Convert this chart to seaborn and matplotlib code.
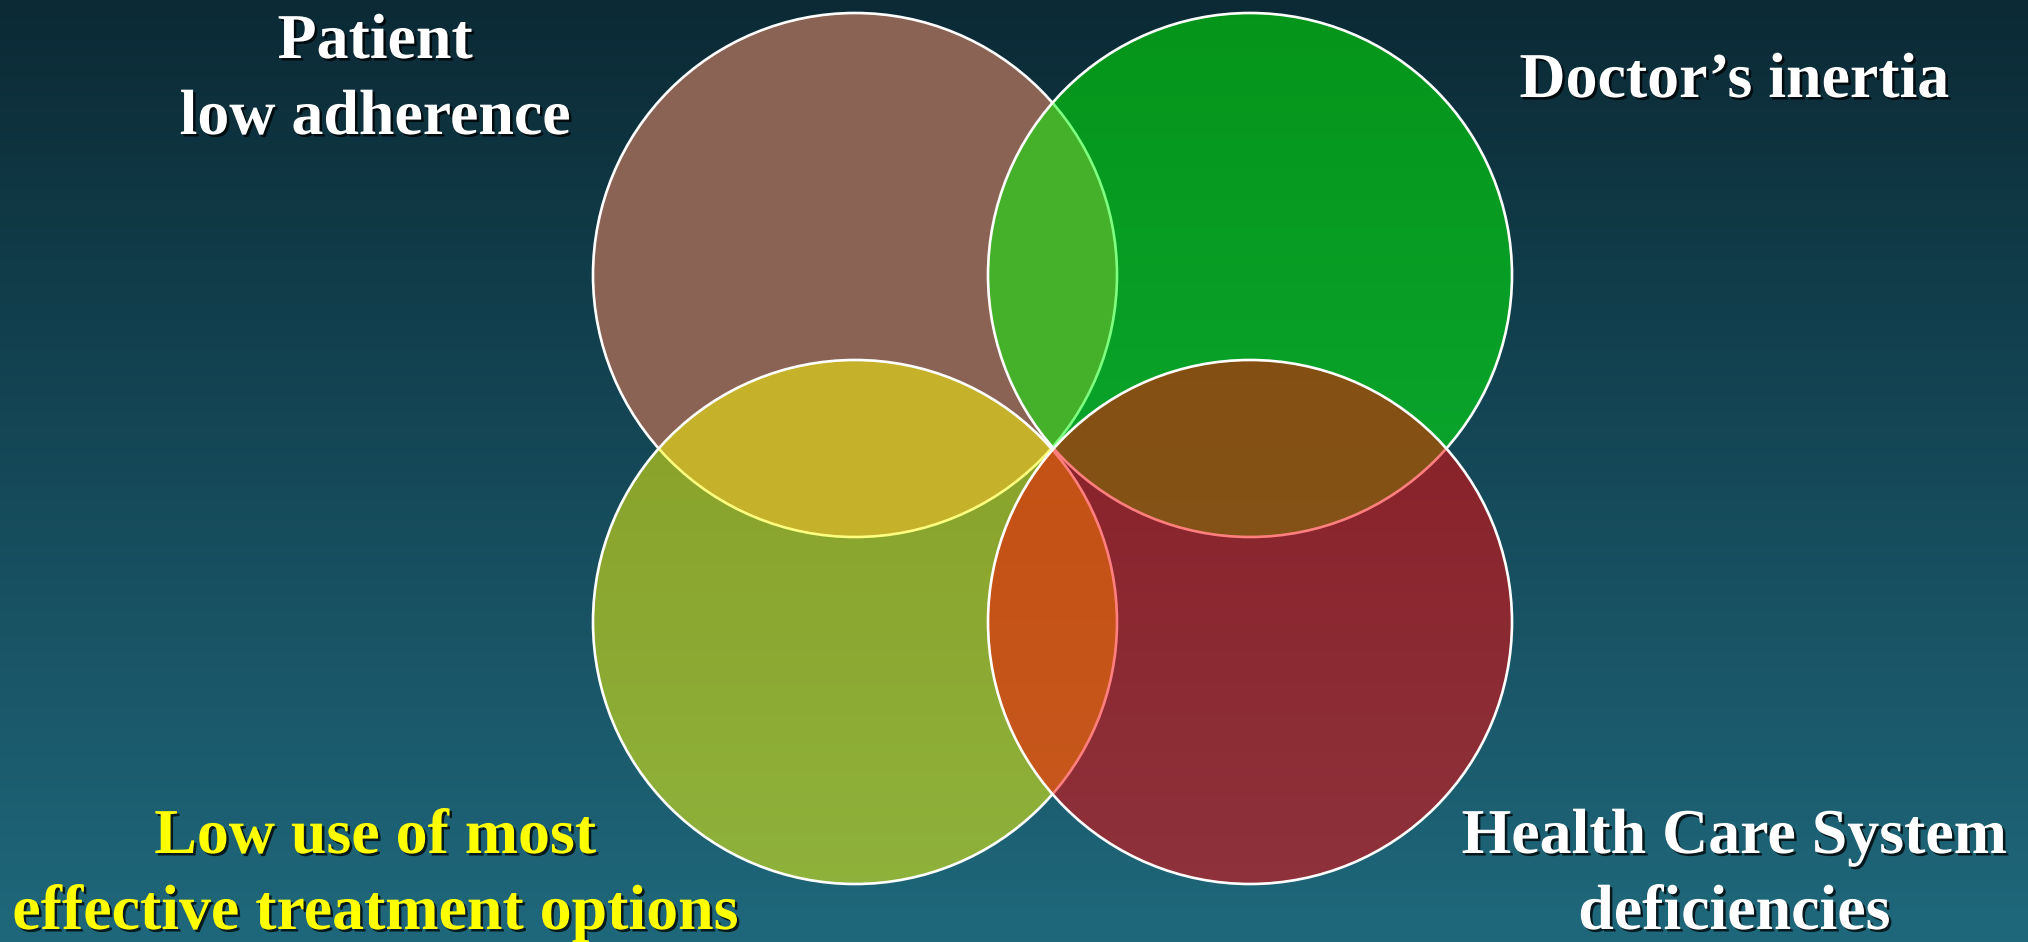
import numpy as np
import matplotlib
matplotlib.use("Agg")
import matplotlib.pyplot as plt
import matplotlib.patheffects as pe
from matplotlib.patches import Circle
import seaborn as sns

# ---- data ----
factors = ["Patient low adherence", "Doctor's inertia",
           "Low use of most effective treatment options", "Health Care System deficiencies"]
label_lines = [["Patient", "low adherence"],
               ["Doctor\u2019s inertia"],
               ["Low use of most", "effective treatment options"],
               ["Health Care System", "deficiencies"]]
fill_colors = ["#8B6355", "#00FF00", "#FFFF00", "#FF0000"]
fill_alpha = [1.0, 0.5, 0.5, 0.5]
text_colors = ["white", "white", "#FFFF00", "white"]

sns.set_theme(style="white")
plt.rcParams['font.family'] = ['Liberation Serif', 'DejaVu Serif']

W, H = 2028, 942
fig = plt.figure(figsize=(W / 100, H / 100), dpi=100)
ax = fig.add_axes([0, 0, 1, 1])
ax.set_xlim(0, W)
ax.set_ylim(H, 0)
ax.set_aspect('equal')
ax.axis('off')

# background gradient
top = np.array([11, 42, 53]) / 255
bot = np.array([31, 104, 124]) / 255
t = np.linspace(0, 1, 256)[:, None]
grad = top[None, :] * (1 - t) + bot[None, :] * t
ax.imshow(grad[:, None, :].repeat(2, axis=1), extent=[0, W, H, 0], aspect='auto', zorder=0)

# layout
cx = [855, 1250, 855, 1250]
cy = [275, 275, 622, 622]
r = 262
for i in range(4):
    rgb = matplotlib.colors.to_rgb(fill_colors[i])
    c = Circle((cx[i], cy[i]), r, facecolor=(*rgb, fill_alpha[i]),
               edgecolor='white', linewidth=1.9, zorder=2 + i)
    ax.add_patch(c)

shadow = [pe.withSimplePatchShadow(offset=(1.8, -1.8), shadow_rgbFace='black', alpha=0.75)]
tx = [375, 1734, 375, 1734]
baselines = [[58, 134], [97], [853, 929], [853, 929]]
for i in range(4):
    for line, yb in zip(label_lines[i], baselines[i]):
        ax.text(tx[i], yb, line, ha='center', va='baseline', fontsize=46,
                fontweight='bold', color=text_colors[i], zorder=10, path_effects=shadow)

fig.savefig("out.png", dpi=100)
